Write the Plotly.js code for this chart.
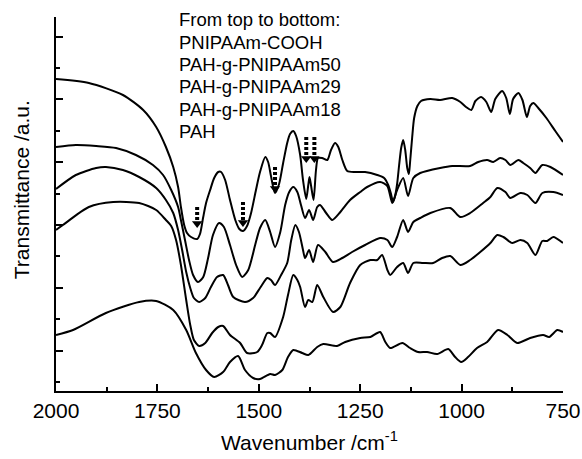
<!DOCTYPE html>
<html><head><meta charset="utf-8">
<script src="https://cdn.plot.ly/plotly-3.0.1.min.js"></script>
<style>html,body{margin:0;padding:0;background:#fff}#chart{width:582px;height:459px}</style>
</head><body><div id="chart"></div>
<script>
// Series names (top to bottom)
const seriesNames = ['PNIPAAm-COOH', 'PAH-g-PNIPAAm50', 'PAH-g-PNIPAAm29', 'PAH-g-PNIPAAm18', 'PAH'];
const noteTitle = 'From top to bottom:';

// PNIPAAm-COOH
const wnCOOH = [2000,1919,1835,1785,1753,1729,1711,1699,1692,1684,1677,1667,1652,1645,1637,1630,1620,1610,1600,1593,1583,1571,1558,1548,1539,1529,1519,1507,1497,1484,1477,1470,1460,1450,1440,1430,1423,1415,1408,1398,1391,1383,1378,1375,1371,1365,1359,1354,1344,1331,1322,1312,1304,1294,1282,1262,1238,1208,1191,1181,1174,1169,1164,1159,1154,1149,1144,1139,1134,1130,1127,1122,1117,1109,1100,1077,1053,1023,1003,989,976,966,952,939,927,917,900,890,881,873,860,850,839,831,823,811,791,769,750];
const tCOOH = [312,308,296,281,264,244,224,204,184,166,158,154,152,157,174,188,201,213,219,219,211,191,171,162,160,165,178,201,219,234,229,215,198,207,228,248,257,260,255,236,211,192,206,214,205,191,221,233,233,231,241,248,244,231,220,219,219,216,213,206,197,189,195,207,226,243,251,241,223,217,229,253,273,285,290,292,291,293,289,284,281,290,294,289,279,292,300,293,277,292,298,291,274,285,288,283,273,260,249];

// PAH-g-PNIPAAm50
const wn50 = [2000,1951,1901,1852,1803,1761,1736,1716,1699,1692,1682,1672,1662,1650,1637,1625,1613,1598,1586,1571,1556,1541,1526,1509,1497,1484,1472,1460,1447,1435,1425,1415,1405,1396,1386,1376,1366,1356,1349,1334,1319,1299,1275,1250,1233,1201,1183,1171,1159,1144,1132,1119,1102,1053,1023,979,959,937,922,905,892,880,860,848,831,818,801,781,750];
const t50 = [244,246,245,243,236,226,216,201,184,171,151,131,116,109,114,133,156,168,164,146,126,114,121,146,163,171,159,144,159,186,199,204,199,186,173,181,171,184,186,178,171,179,191,199,204,209,205,188,201,213,195,213,218,223,225,225,229,231,229,233,231,226,231,228,223,218,226,224,216];

// PAH-g-PNIPAAm29
const wn29 = [2000,1951,1901,1877,1835,1795,1753,1729,1711,1699,1689,1679,1669,1660,1647,1632,1618,1603,1588,1576,1563,1534,1514,1497,1479,1470,1460,1445,1430,1420,1410,1401,1391,1386,1376,1366,1354,1336,1317,1294,1270,1238,1201,1183,1171,1159,1144,1132,1119,1102,1077,1028,1003,979,947,929,912,892,880,855,838,818,801,774,750];
const t29 = [202,216,223,224,221,214,203,191,178,161,141,119,103,93,89,93,104,114,116,106,94,89,93,103,113,111,106,116,128,151,166,159,141,133,141,129,146,139,129,133,139,146,153,151,144,154,171,159,169,173,178,183,174,178,188,194,203,199,193,198,196,188,198,199,196];

// PAH-g-PNIPAAm18
const wn18 = [2000,1983,1919,1859,1795,1753,1729,1716,1704,1692,1679,1669,1660,1647,1632,1615,1600,1588,1571,1546,1529,1504,1492,1479,1472,1460,1440,1428,1415,1405,1398,1386,1378,1368,1356,1341,1317,1299,1275,1250,1225,1208,1196,1183,1176,1159,1144,1132,1119,1095,1070,1048,1028,1003,979,954,929,912,897,875,855,838,818,801,789,774,750];
const t18 = [161,166,184,189,188,181,171,165,151,126,91,66,51,45,48,58,64,65,56,48,38,39,46,58,58,54,74,96,116,111,104,84,91,89,106,94,79,84,108,126,131,131,136,121,116,124,128,118,128,128,128,133,135,126,131,139,148,156,154,148,151,148,136,150,150,154,148];

// PAH
const wnPAH = [2000,1958,1877,1795,1753,1711,1679,1655,1630,1610,1588,1571,1551,1534,1514,1497,1472,1460,1442,1428,1415,1393,1378,1356,1341,1307,1287,1250,1225,1201,1188,1176,1146,1127,1107,1085,1060,1033,1016,1001,984,962,937,910,887,863,831,799,784,764,750];
const tPAH = [56,61,78,89,90,81,61,38,21,14,19,29,35,21,13,12,17,16,21,34,41,38,36,44,47,45,49,53,54,59,49,43,48,43,39,39,37,42,34,29,34,43,49,61,56,48,53,56,54,61,59];

// Marked bands (arrows)
const arrowWn = [1652, 1539, 1460, 1383, 1363];
const arrowTop = [184, 189, 224, 254, 254];
const arrowTip = [163, 164, 198, 228, 228];

// Axis ticks
const xTickVals = [2000, 1750, 1500, 1250, 1000, 750];
const xTickText = ['2000', '1750', '1500', '1250', '1000', '750'];

const FONT = 'Liberation Sans, Arial, Helvetica, sans-serif';
const wns = [wnCOOH, wn50, wn29, wn18, wnPAH];
const ts = [tCOOH, t50, t29, t18, tPAH];

const traces = seriesNames.map((n, i) => ({
  type: 'scatter', mode: 'lines', name: n,
  x: wns[i], y: ts[i],
  line: {color: '#000', width: 2, shape: 'spline', smoothing: 0.7},
  hoverinfo: 'skip', showlegend: false
}));

arrowWn.forEach((w, i) => {
  traces.push({
    type: 'scatter', mode: 'lines', x: [w, w], y: [arrowTop[i], arrowTip[i] + 6],
    line: {color: '#000', width: 4, dash: '3px,2px'}, hoverinfo: 'skip', showlegend: false
  });
});
traces.push({
  type: 'scatter', mode: 'markers', x: arrowWn, y: arrowTip.map(v => v + 4.5),
  marker: {symbol: 'triangle-down', size: 9, color: '#000', line: {width: 0}},
  hoverinfo: 'skip', showlegend: false
});

const noteLines = [noteTitle].concat(seriesNames);
const noteY = [0.992, 0.9324, 0.8727, 0.8131, 0.7535, 0.6939];
const annotations = noteLines.map((t, i) => ({
  text: t, xref: 'paper', yref: 'paper', x: 0.238, y: noteY[i],
  xanchor: 'left', yanchor: 'middle', showarrow: false,
  font: {family: FONT, size: 18.5, color: '#000'}
}));
annotations.push({
  text: 'Transmittance /a.u.', xref: 'paper', yref: 'paper', x: -0.069, y: 0.537,
  xanchor: 'center', yanchor: 'middle', textangle: -90, showarrow: false,
  font: {family: FONT, size: 21, color: '#000'}
});

const layout = {
  width: 582, height: 459,
  margin: {l: 56, r: 19, t: 17, b: 68, pad: 0},
  paper_bgcolor: '#fff', plot_bgcolor: '#fff',
  font: {family: FONT, color: '#000'},
  showlegend: false,
  xaxis: {
    range: [2000, 750], showgrid: false, zeroline: false,
    showline: true, linecolor: '#000', linewidth: 2, mirror: false,
    ticks: 'inside', ticklen: 7, tickwidth: 2, tickcolor: '#000',
    tickmode: 'array', tickvals: xTickVals, ticktext: xTickText,
    tickfont: {family: FONT, size: 21, color: '#000'},
    minor: {dtick: 125, tick0: 0, ticks: 'inside', ticklen: 4, tickwidth: 2, tickcolor: '#000', showgrid: false},
    title: {text: 'Wavenumber /cm<sup>-1</sup>', font: {family: FONT, size: 21, color: '#000'}, standoff: 14},
    automargin: false
  },
  yaxis: {
    range: [0, 374], showgrid: false, zeroline: false,
    showline: true, linecolor: '#000', linewidth: 2, mirror: false,
    ticks: 'inside', ticklen: 7, tickwidth: 2, tickcolor: '#000',
    tick0: 40.4, dtick: 62.78, showticklabels: false,
    minor: {dtick: 31.39, tick0: 9, ticks: 'inside', ticklen: 4, tickwidth: 2, tickcolor: '#000', showgrid: false},
    automargin: false
  },
  annotations: annotations
};

Plotly.newPlot('chart', traces, layout, {displayModeBar: false, staticPlot: true});
</script></body></html>
